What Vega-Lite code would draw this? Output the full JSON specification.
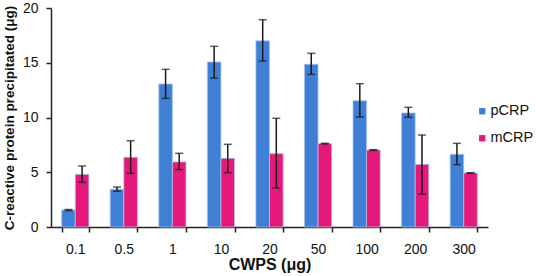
{
  "$schema": "https://vega.github.io/schema/vega-lite/v6.json",
  "width": 437,
  "height": 219,
  "autosize": {"type": "none"},
  "padding": {"left": 51, "top": 8, "right": 48, "bottom": 49},
  "config": {
    "font": "Liberation Sans",
    "view": {"stroke": null},
    "axis": {"labelFont": "Liberation Sans", "titleFont": "Liberation Sans", "domainColor": "#222", "tickColor": "#222", "labelColor": "#111", "titleColor": "#111"},
    "legend": {"padding": 0}
  },
  "data": {
    "values": [
      {"dose": "0.1", "type": "pCRP", "value": 1.55, "lo": 1.5, "hi": 1.6},
      {"dose": "0.5", "type": "pCRP", "value": 3.45, "lo": 3.26, "hi": 3.65},
      {"dose": "1", "type": "pCRP", "value": 13.06, "lo": 11.75, "hi": 14.4},
      {"dose": "10", "type": "pCRP", "value": 15.07, "lo": 13.6, "hi": 16.5},
      {"dose": "20", "type": "pCRP", "value": 17.0, "lo": 15.16, "hi": 18.93},
      {"dose": "50", "type": "pCRP", "value": 14.86, "lo": 13.94, "hi": 15.86},
      {"dose": "100", "type": "pCRP", "value": 11.53, "lo": 10.05, "hi": 13.09},
      {"dose": "200", "type": "pCRP", "value": 10.41, "lo": 10.02, "hi": 10.93},
      {"dose": "300", "type": "pCRP", "value": 6.64, "lo": 5.69, "hi": 7.64},
      {"dose": "0.1", "type": "mCRP", "value": 4.81, "lo": 4.08, "hi": 5.57},
      {"dose": "0.5", "type": "mCRP", "value": 6.37, "lo": 4.9, "hi": 7.88},
      {"dose": "1", "type": "mCRP", "value": 5.94, "lo": 5.24, "hi": 6.73},
      {"dose": "10", "type": "mCRP", "value": 6.27, "lo": 4.96, "hi": 7.55},
      {"dose": "20", "type": "mCRP", "value": 6.7, "lo": 3.56, "hi": 9.93},
      {"dose": "50", "type": "mCRP", "value": 7.61, "lo": 7.58, "hi": 7.64},
      {"dose": "100", "type": "mCRP", "value": 7.03, "lo": 7.0, "hi": 7.06},
      {"dose": "200", "type": "mCRP", "value": 5.72, "lo": 3.0, "hi": 8.4},
      {"dose": "300", "type": "mCRP", "value": 4.93, "lo": 4.9, "hi": 4.96}
    ]
  },
  "encoding": {
    "x": {
      "field": "dose", "type": "nominal",
      "sort": ["0.1", "0.5", "1", "10", "20", "50", "100", "200", "300"],
      "scale": {"paddingInner": 0.44, "paddingOuter": 0.22},
      "axis": {"title": "CWPS (μg)", "labelAngle": 0, "labelFontSize": 14, "titleFontSize": 16, "titleFontWeight": "bold", "tickBand": "extent", "tickSize": 5, "labelPadding": 10, "titlePadding": 0, "domainWidth": 1.5, "tickWidth": 1.5}
    },
    "xOffset": {"field": "type", "type": "nominal", "sort": ["pCRP", "mCRP"], "scale": {"paddingInner": 0, "paddingOuter": 0}}
  },
  "layer": [
    {
      "mark": {"type": "bar", "stroke": "#a8c3ea", "strokeWidth": 0.8},
      "encoding": {
        "y": {
          "field": "value", "type": "quantitative",
          "scale": {"domain": [0, 20], "nice": false},
          "axis": {"title": "C-reactive protein precipitated (μg)", "values": [0, 5, 10, 15, 20], "grid": false, "labelFontSize": 14, "titleFontSize": 13.5, "titleFontWeight": "bold", "tickSize": 5, "labelPadding": 8, "titlePadding": 6, "domainWidth": 1.5, "tickWidth": 1.5}
        },
        "color": {
          "field": "type", "type": "nominal",
          "scale": {"domain": ["pCRP", "mCRP"], "range": ["#3f7fd5", "#e6197a"]},
          "legend": {"title": null, "orient": "none", "legendX": 424, "legendY": 96, "symbolType": "square", "symbolSize": 40, "symbolStrokeWidth": 0, "labelFontSize": 14.5, "labelColor": "#111", "rowPadding": 12, "labelOffset": 1}
        }
      }
    },
    {
      "mark": {"type": "rule", "color": "#1a1a1a", "strokeWidth": 1.5},
      "encoding": {
        "y": {"field": "lo", "type": "quantitative"},
        "y2": {"field": "hi"}
      }
    },
    {
      "mark": {"type": "tick", "color": "#1a1a1a", "size": 8, "thickness": 1.5, "orient": "horizontal"},
      "encoding": {"y": {"field": "lo", "type": "quantitative"}}
    },
    {
      "mark": {"type": "tick", "color": "#1a1a1a", "size": 8, "thickness": 1.5, "orient": "horizontal"},
      "encoding": {"y": {"field": "hi", "type": "quantitative"}}
    }
  ]
}
